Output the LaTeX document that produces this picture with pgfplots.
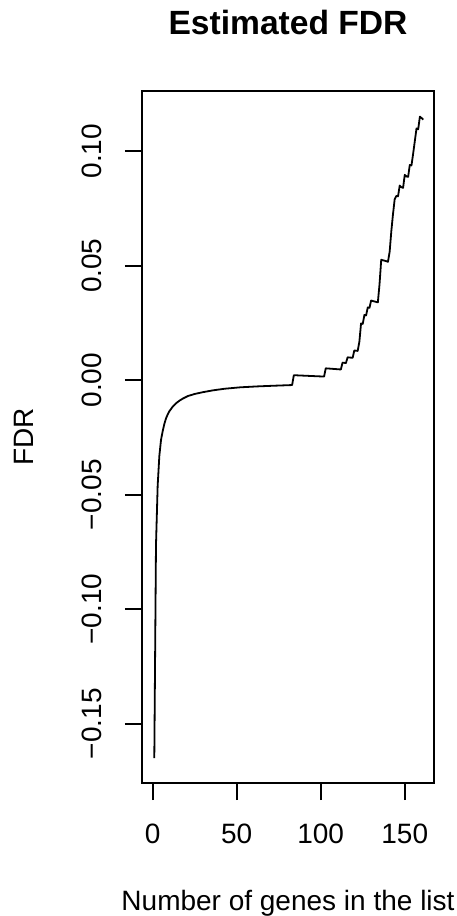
\documentclass[border=0pt]{standalone}
\usepackage{fontspec}
\setmainfont{Liberation Sans}
\usepackage{pgfplots}
\pgfplotsset{compat=1.18}
\begin{document}
\begin{tikzpicture}
\useasboundingbox (-70.85pt,-66.35pt) rectangle (157.15pt,391.65pt);
\begin{axis}[
  at={(0pt,0pt)}, anchor=south west,
  scale only axis, width=146.15pt, height=346.15pt,
  xmin=-6.5, xmax=167.4, ymin=-0.176, ymax=0.1263,
  axis line style={line width=0.9pt},
  tick style={line width=0.9pt, black},
  tick align=outside, major tick length=8.35pt,
  xtick pos=bottom, ytick pos=left,
  xtick={0,50,100,150}, xticklabels={0,50,100,150},
  ytick={-0.15,-0.1,-0.05,0,0.05,0.1},
  yticklabels={−0.15,−0.10,−0.05,0.00,0.05,0.10},
  tick label style={font=\fontsize{14}{16}\selectfont},
  xticklabel style={anchor=base, yshift=-21.65pt},
  yticklabel style={xshift=-11.65pt, rotate=90, anchor=base},
  clip=false,
]
\addplot[black, line width=0.9pt, line join=round] coordinates {
(1,-0.165) (2,-0.072) (3,-0.046) (4,-0.033) (5,-0.026) (6,-0.0222) (7,-0.019)
(8,-0.0166) (9,-0.0149) (10,-0.0135) (12,-0.0115) (14,-0.0100) (16,-0.0089)
(18,-0.0080) (21,-0.0069) (25,-0.0060) (30,-0.0052) (36,-0.0044) (43,-0.0037)
(52,-0.0031) (62,-0.0027) (72,-0.0024) (83,-0.0021)
(84,0.0022) (102,0.0016) (103,0.0052) (112,0.0047) (113,0.0077) (115,0.0075)
(116,0.0100) (119,0.0098) (120,0.0130) (122,0.0128) (123,0.0168) (124,0.0248)
(125,0.0246) (126,0.0285) (127,0.0283) (128,0.0318) (129,0.0316) (130,0.0348)
(131,0.0346) (132,0.0344) (133,0.0342) (134,0.0340) (135,0.0420) (136,0.0526)
(137,0.0524) (138,0.0522) (139,0.0520) (140,0.0517) (141,0.0560) (142,0.0650)
(143,0.0725) (144,0.0790) (145,0.0805) (146,0.0803) (147,0.0850) (148,0.0843)
(149,0.0840) (150,0.0897) (151,0.0890) (152,0.0888) (153,0.0940) (154,0.0938)
(155,0.0990) (156,0.1045) (157,0.1100) (158,0.1096) (159,0.1151) (160,0.1145)
(161,0.1138)
};
\end{axis}
\node[font=\fontsize{16.8}{20}\selectfont\bfseries, anchor=base] at (73.15pt,374.15pt) {Estimated FDR};
\node[font=\fontsize{14}{16}\selectfont, anchor=base] at (73.15pt,-63.35pt) {Number of genes in the list};
\node[font=\fontsize{14}{16}\selectfont, anchor=base, rotate=90] at (-54.2pt,173.15pt) {FDR};
\end{tikzpicture}
\end{document}
